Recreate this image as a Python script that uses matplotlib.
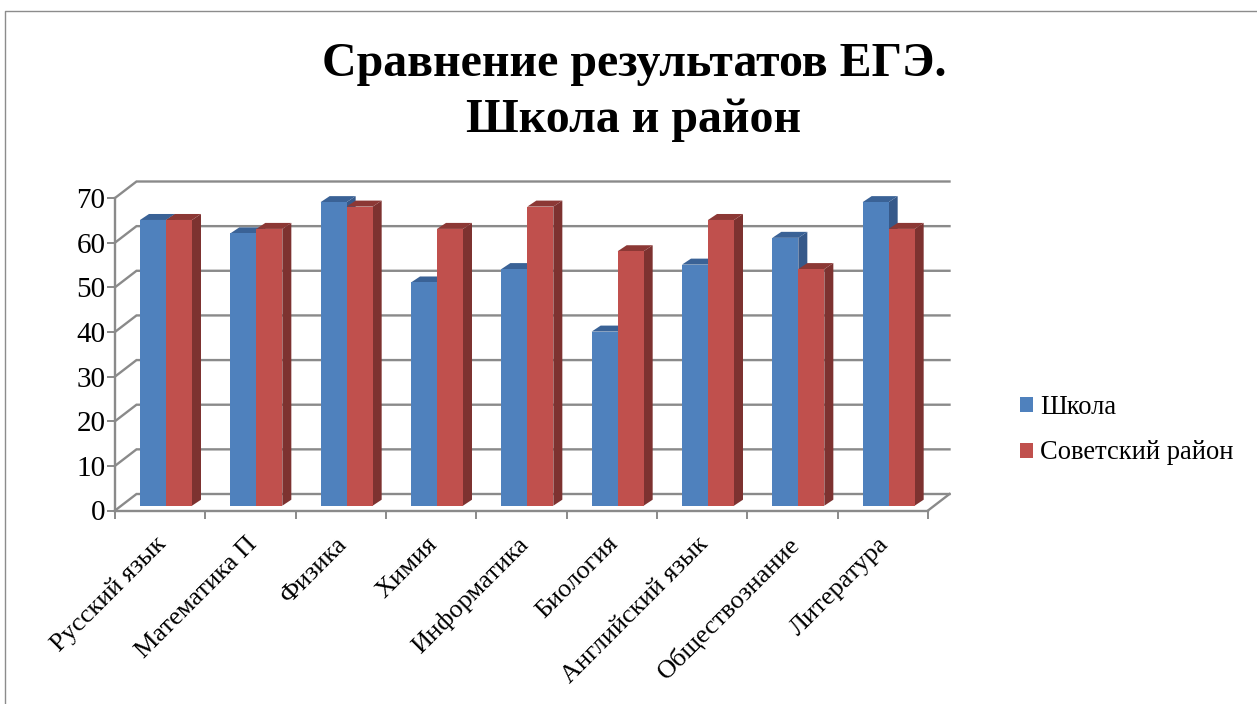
import matplotlib
matplotlib.use("Agg")
import matplotlib.pyplot as plt
from matplotlib.patches import Patch, Polygon
from matplotlib.lines import Line2D
from matplotlib.transforms import ScaledTranslation

categories = ["Русский язык", "Математика П", "Физика", "Химия", "Информатика",
              "Биология", "Английский язык", "Обществознание", "Литература"]
school = [64, 61, 68, 50, 53, 39, 54, 60, 68]
district = [64, 62, 67, 62, 67, 57, 64, 53, 62]
series_names = ["Школа", "Советский район"]
yticks = [0, 10, 20, 30, 40, 50, 60, 70]
title = "Сравнение результатов ЕГЭ.\nШкола и район"

plt.rcParams["font.family"] = ["Liberation Serif", "DejaVu Serif"]
W, H = 1257, 704
fig = plt.figure(figsize=(W / 100, H / 100), dpi=100)
L, R, B, T = 115, 928, 510.5, 198
ax = fig.add_axes([L / W, 1 - B / H, (R - L) / W, (B - T) / H])
n = len(categories)
ax.set_xlim(0, n)
ax.set_ylim(0, 70)
pxx = n / (R - L)
pxy = 70 / (B - T)
GRID = "#8a8a8a"

# walls / gridlines
wdx, wdy = 21.5 * pxx, 16.5 * pxy
for v in yticks:
    ax.plot([0, wdx, n + wdx], [v, v + wdy, v + wdy], color=GRID, lw=1.7, clip_on=False, zorder=1, solid_joinstyle="miter")
ax.plot([n, n + wdx], [0, wdy], color=GRID, lw=1.7, clip_on=False, zorder=1)

# bars
off = 25 * pxx
bw = 26 * pxx
base = 4.8 * pxy
ddx, ddy = 9 * pxx, 6 * pxy
styles = [("#4F81BD", "#36598A", "#3A6296"), ("#C0504D", "#7D3230", "#8C3835")]
for s, vals in enumerate([school, district]):
    front, side, top = styles[s]
    for i, v in enumerate(vals):
        x0 = i + off + s * bw
        x1 = x0 + bw
        y1 = v + base
        ax.add_patch(Polygon([(x1, base), (x1 + ddx, base + ddy), (x1 + ddx, y1 + ddy), (x1, y1)],
                             fc=side, ec="none", zorder=3 + s * 2 + i * 3, clip_on=False))
        ax.add_patch(Polygon([(x0, y1), (x0 + ddx, y1 + ddy), (x1 + ddx, y1 + ddy), (x1, y1)],
                             fc=top, ec="none", zorder=3 + s * 2 + i * 3, clip_on=False))
        ax.bar(x0, v, width=bw, bottom=base, align="edge", color=front, zorder=4 + s * 2 + i * 3, clip_on=False)

for sp in ("top", "right"):
    ax.spines[sp].set_visible(False)
for sp in ("left", "bottom"):
    ax.spines[sp].set_color(GRID)
    ax.spines[sp].set_linewidth(1.7)
ax.set_yticks(yticks)
ax.tick_params(axis="y", length=6, width=1.4, color=GRID, labelsize=21, pad=1)
ax.set_xticks(range(n + 1))
ax.set_xticklabels([])
ax.tick_params(axis="x", which="major", length=5.5, width=1.4, color=GRID)
ax.set_xticks([i + 0.5 for i in range(n)], minor=True)
ax.set_xticklabels(categories, minor=True, rotation=45, ha="right", rotation_mode="anchor", fontsize=19)
ax.tick_params(axis="x", which="minor", length=0, pad=16)
shift = ScaledTranslation(-5 / 100, 0, fig.dpi_scale_trans)
for lab in ax.get_xticklabels(minor=True):
    lab.set_transform(lab.get_transform() + shift)

fig.text(634 / W, 1 - 92 / H, title, ha="center", va="center", fontsize=34.5, fontweight="bold", linespacing=1.33)

handles = [Patch(fc=styles[0][0]), Patch(fc=styles[1][0])]
fig.legend(handles, series_names, loc="center left", bbox_to_anchor=(1020 / W, 1 - 430 / H), frameon=False,
           fontsize=19.1, handlelength=0.5, handleheight=0.5, handletextpad=0.26, labelspacing=0.79,
           borderpad=0, borderaxespad=0)

# outer frame
fig.add_artist(Line2D([5 / W, 5 / W, 1], [0, 1 - 11 / H, 1 - 11 / H], color="#8c8c8c", lw=1, transform=fig.transFigure))
fig.savefig("out.png", dpi=100)
